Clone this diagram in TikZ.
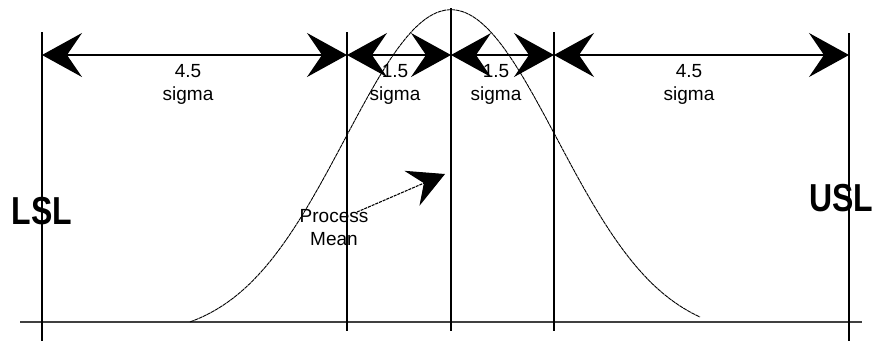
\documentclass[tikz,border=0pt]{standalone}
\usepackage{fontspec}
\setmainfont{Liberation Sans}
\usetikzlibrary{calc, arrows.meta, positioning}

\begin{document}
\begin{tikzpicture}[x=1pt, y=-1pt,
    guide/.style={line width=1.2pt},
    span/.style={line width=1.3pt, {Stealth[length=40pt, width=44pt, inset=15pt]}-{Stealth[length=40pt, width=44pt, inset=15pt]}},
    pointer/.style={line width=1.1pt, dash pattern=on 3pt off 1pt, -{Stealth[length=36pt, width=38pt, inset=13pt]}},
    lbl/.style={font=\fontsize{19}{23}\selectfont, align=center, inner sep=0pt},
    limit/.style={font=\fontsize{39}{40}\selectfont\bfseries, xscale=0.82, inner sep=0pt}]
  \useasboundingbox (0,0) rectangle (875,341);

  % Axis
  \draw[line width=1.6pt, black!75] (20,322) -- (862,322);

  % Spec limits and sigma marks
  \coordinate (lsl) at (42,55);
  \coordinate (ma) at (347,55);
  \coordinate (mu) at (451,55);
  \coordinate (mb) at (554,55);
  \coordinate (usl) at (849,55);
  \draw[guide] (42,32) -- (42,341);
  \draw[guide] (347,32) -- (347,331);
  \draw[guide] (451,8) -- (451,331);
  \draw[guide] (554,32) -- (554,331);
  \draw[guide] (849,33) -- (849,341);

  % Normal curve
  \draw[line width=0.9pt, dash pattern=on 4pt off 0.6pt]
    plot[domain=190:700, samples=121, smooth] (\x, {322 - 328*(exp(-((\x-451)/106)^2/2) - 0.048)});

  % Dimension arrows
  \draw[span] (lsl) -- (ma);
  \draw[span] (ma) -- (mu);
  \draw[span] (mu) -- (mb);
  \draw[span] (mb) -- (usl);

  \node[lbl] (d1) at (188,84) {4.5\\sigma};
  \node[lbl] (d2) at (395,84) {1.5\\sigma};
  \node[lbl] (d3) at (496,84) {1.5\\sigma};
  \node[lbl] (d4) at (689,84) {4.5\\sigma};

  % Limit labels
  \node[limit] (lsltxt) at (42,211) {LSL};
  \node[limit] (usltxt) at (841,198) {USL};

  % Process mean
  \node[lbl] (pm) at (334,228) {Process\\Mean};
  \coordinate (pmtail) at (357,212);
  \coordinate (pmhead) at (445,174);
  \draw[pointer] (pmtail) -- (pmhead);
\end{tikzpicture}
\end{document}
